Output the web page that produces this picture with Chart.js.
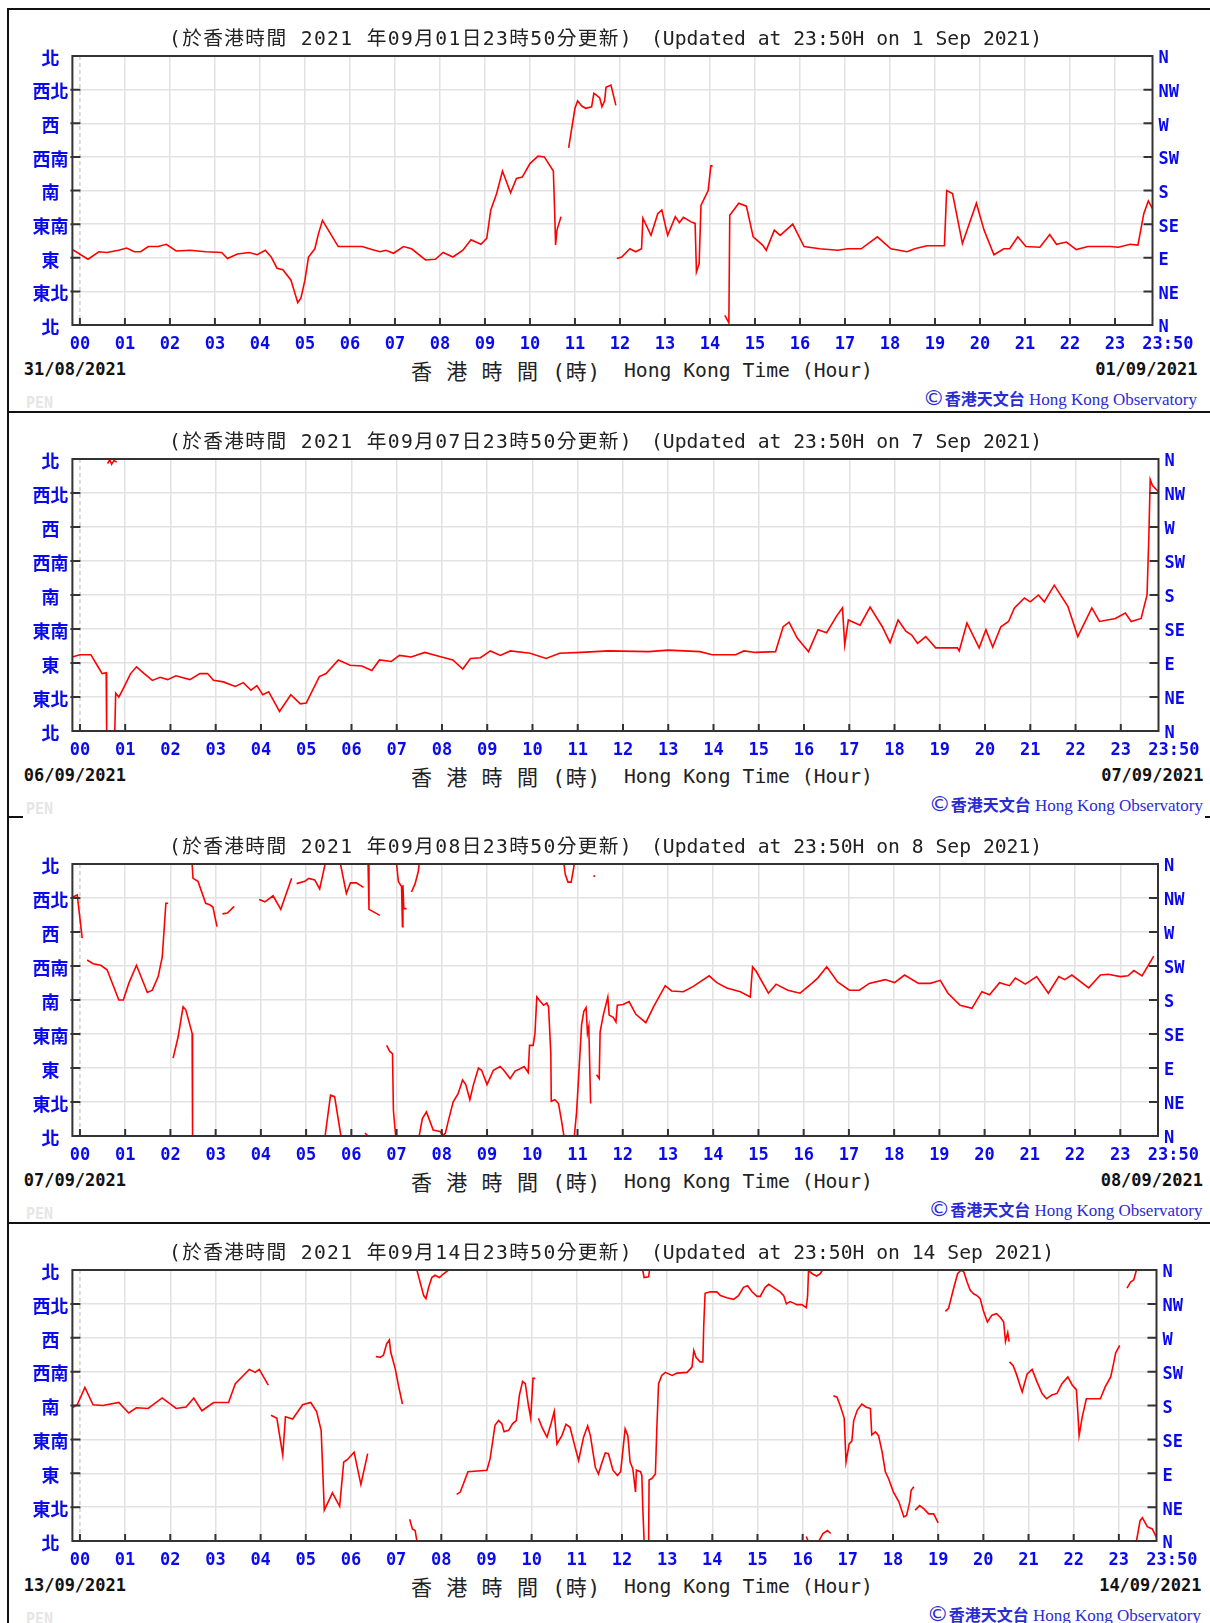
<!DOCTYPE html>
<html>
<head>
<meta charset="utf-8">
<script src="https://cdn.jsdelivr.net/npm/chart.js@4.4.1/dist/chart.umd.min.js"></script>
<style>
  html, body { margin: 0; padding: 0; background: #fff; }
  #page { position: relative; width: 1210px; height: 1623px; overflow: hidden; background: #fff; }
  .t { position: absolute; white-space: pre; line-height: 24px; height: 24px; }
  .title { font: 19.7px "DejaVu Sans Mono", "Noto Sans CJK TC", monospace; color: #222; }
  .axzh { font: 21px "DejaVu Sans Mono", "Noto Sans CJK TC", monospace; color: #222; }
  .date { font: bold 17px "DejaVu Sans Mono", monospace; color: #111; }
  .copy { color: #2b2bd6; }
  .copy .c { font: 22px "DejaVu Sans", sans-serif; }
  .copy .z { font: bold 16px "Noto Sans CJK TC", sans-serif; }
  .copy .e { font: 17px "Liberation Serif", "DejaVu Serif", serif; }
  .pen { font: bold 15px "DejaVu Sans Mono", monospace; color: #e6e6e6; }
  .rule { position: absolute; background: #111; }
  .box { position: absolute; left: 0; width: 1210px; }
</style>
</head>
<body>
<div id="page"></div>
<script>
// ---------- data (hour of day, wind direction in degrees; null = gap) ----------
const dirTicks = [0, 45, 90, 135, 180, 225, 270, 315, 360];
const dirZh = ['北', '東北', '東', '東南', '南', '西南', '西', '西北', '北'];
const dirEn = ['N', 'NE', 'E', 'SE', 'S', 'SW', 'W', 'NW', 'N'];
const hourTicks = [0, 1, 2, 3, 4, 5, 6, 7, 8, 9, 10, 11, 12, 13, 14, 15, 16, 17, 18, 19, 20, 21, 22, 23, 23 + 50 / 60];
const hourLabels = ['00', '01', '02', '03', '04', '05', '06', '07', '08', '09', '10', '11', '12',
  '13', '14', '15', '16', '17', '18', '19', '20', '21', '22', '23', '   23:50'];

const updatedZh = ['(於香港時間 2021 年09月01日23時50分更新)', '(於香港時間 2021 年09月07日23時50分更新)',
  '(於香港時間 2021 年09月08日23時50分更新)', '(於香港時間 2021 年09月14日23時50分更新)'];
const updatedEn = ['(Updated at 23:50H on 1 Sep 2021)', '(Updated at 23:50H on 7 Sep 2021)',
  '(Updated at 23:50H on 8 Sep 2021)', '(Updated at 23:50H on 14 Sep 2021)'];
const startDates = ['31/08/2021', '06/09/2021', '07/09/2021', '13/09/2021'];
const endDates = ['01/09/2021', '07/09/2021', '08/09/2021', '14/09/2021'];

const sep01 = [
  [-0.17, 101], [0.18, 88], [0.42, 98], [0.6, 97], [0.86, 100], [1.04, 103], [1.21, 98], [1.35, 98], [1.52, 105],
  [1.74, 105], [1.92, 108], [2.14, 99], [2.45, 100], [2.8, 98], [3.15, 97], [3.28, 89], [3.5, 95], [3.76, 97],
  [3.94, 94], [4.12, 100], [4.25, 91], [4.38, 76], [4.51, 74], [4.69, 60], [4.78, 42], [4.84, 30], [4.91, 36],
  [5.0, 60], [5.08, 91], [5.22, 102], [5.3, 122], [5.39, 140], [5.52, 127], [5.74, 105], [6.27, 105], [6.49, 101],
  [6.67, 98], [6.8, 100], [6.97, 96], [7.19, 105], [7.37, 102], [7.68, 87], [7.9, 88], [8.07, 97], [8.29, 91],
  [8.51, 100], [8.69, 114], [8.91, 108], [9.04, 116], [9.13, 154], [9.26, 176], [9.39, 206], [9.57, 177],
  [9.7, 196], [9.83, 198], [10.0, 216], [10.18, 226], [10.32, 225], [10.52, 206], [10.55, 150], [10.57, 107],
  [10.6, 127], [10.69, 145],
  null,
  [10.86, 237], [11.0, 290], [11.06, 300], [11.15, 293], [11.24, 290], [11.37, 292], [11.42, 310], [11.47, 308],
  [11.55, 304], [11.6, 292], [11.66, 300], [11.69, 318], [11.8, 321], [11.91, 294],
  null,
  [11.93, 89], [12.04, 91], [12.22, 102], [12.35, 98], [12.48, 102], [12.51, 143], [12.69, 120], [12.84, 149],
  [12.93, 154], [13.06, 120], [13.23, 145], [13.32, 137], [13.41, 144], [13.58, 138], [13.67, 136], [13.7, 71],
  [13.76, 82], [13.8, 160], [13.96, 180], [14.02, 213], [14.06, 213],
  null,
  [14.33, 13], [14.42, 3], [14.44, 147], [14.64, 163], [14.81, 159], [14.96, 118], [15.17, 107], [15.25, 100],
  [15.43, 127], [15.56, 120], [15.69, 127], [15.84, 135], [16.09, 105], [16.44, 102], [16.84, 100], [17.06, 102],
  [17.36, 102], [17.72, 118], [18.02, 102], [18.38, 98], [18.55, 102], [18.82, 106], [19.21, 106], [19.26, 180],
  [19.39, 176], [19.61, 109], [19.92, 163], [20.09, 127], [20.31, 94], [20.53, 102], [20.66, 102], [20.84, 118],
  [21.02, 105], [21.33, 104], [21.55, 121], [21.7, 108], [21.92, 111], [22.14, 101], [22.4, 105], [22.9, 105],
  [23.07, 104], [23.34, 108], [23.51, 107], [23.64, 149], [23.74, 166], [23.83, 156]
];

const sep07 = [
  [-0.17, 98], [0, 101], [0.24, 101], [0.4, 85], [0.49, 76], [0.58, 77], [0.59, 0],
  null,
  [0.61, 354], [0.66, 359], [0.7, 353], [0.75, 358], [0.81, 356],
  null,
  [0.77, 0], [0.79, 50], [0.86, 45], [0.94, 54], [1.12, 76], [1.25, 85], [1.42, 76], [1.6, 67], [1.77, 71],
  [1.94, 68], [2.12, 73], [2.43, 68], [2.65, 76], [2.82, 76], [2.95, 67], [3.17, 65], [3.43, 59], [3.61, 64],
  [3.78, 54], [3.91, 60], [4.04, 48], [4.17, 52], [4.41, 26], [4.66, 48], [4.87, 36], [5.0, 37], [5.29, 72],
  [5.44, 76], [5.71, 94], [5.97, 87], [6.23, 86], [6.45, 80], [6.62, 94], [6.88, 92], [7.06, 100], [7.32, 98],
  [7.62, 104], [7.93, 99], [8.24, 94], [8.46, 82], [8.63, 96], [8.85, 97], [9.07, 106], [9.29, 100], [9.51, 106],
  [9.95, 103], [10.3, 96], [10.6, 103], [11.07, 104], [11.68, 106], [12.57, 105], [13.0, 107], [13.7, 105],
  [13.97, 101], [14.49, 101], [14.67, 106], [14.93, 104], [15.37, 105], [15.54, 138], [15.67, 144], [15.85, 123],
  [16.1, 105], [16.31, 134], [16.5, 130], [16.72, 152], [16.85, 163], [16.9, 114], [16.98, 147], [17.24, 140],
  [17.46, 164], [17.73, 138], [17.9, 117], [18.08, 147], [18.25, 132], [18.38, 127], [18.51, 116], [18.69, 125],
  [18.91, 110], [19.39, 110], [19.43, 106], [19.6, 143], [19.87, 110], [20.02, 134], [20.17, 111], [20.35, 138],
  [20.52, 145], [20.65, 163], [20.87, 176], [21.0, 171], [21.18, 180], [21.31, 171], [21.53, 193], [21.83, 165],
  [22.05, 125], [22.36, 163], [22.53, 145], [22.88, 149], [23.1, 156], [23.23, 145], [23.45, 149], [23.58, 180],
  [23.62, 257], [23.65, 333], [23.7, 325], [23.83, 317]
];

const sep08 = [
  [-0.17, 316], [-0.06, 319], [0.05, 262],
  null,
  [0.16, 233], [0.29, 228], [0.46, 226], [0.6, 220], [0.86, 180], [0.96, 180], [1.08, 202], [1.25, 226],
  [1.49, 190], [1.6, 193], [1.73, 211], [1.82, 237], [1.9, 308], [1.95, 308],
  null,
  [2.06, 103], [2.17, 131], [2.28, 171], [2.34, 167], [2.48, 136], [2.49, 0],
  null,
  [2.48, 360], [2.5, 341], [2.61, 337], [2.78, 308], [2.87, 306], [2.94, 303], [3.03, 277],
  null,
  [3.15, 294], [3.26, 295], [3.41, 304],
  null,
  [3.6, 0], [3.97, 0],
  null,
  [3.96, 313], [4.09, 310], [4.27, 318], [4.44, 300], [4.68, 341],
  null,
  [4.79, 334], [4.97, 337], [5.06, 341], [5.19, 339], [5.3, 327], [5.42, 360],
  null,
  [5.42, 0], [5.54, 54], [5.63, 52], [5.77, 0],
  null,
  [5.76, 360], [5.89, 321], [5.98, 335], [6.11, 335], [6.27, 329],
  null,
  [6.3, 4], [6.37, 0],
  null,
  [6.37, 360], [6.39, 300], [6.63, 292],
  null,
  [6.78, 120], [6.85, 112], [6.91, 109], [6.93, 34], [6.98, 0],
  null,
  [7.0, 360], [7.04, 337], [7.11, 330], [7.13, 277], [7.14, 332], [7.16, 301], [7.22, 301],
  null,
  [7.33, 323], [7.41, 334], [7.48, 350], [7.5, 360],
  null,
  [7.5, 0], [7.57, 23], [7.66, 32], [7.74, 19], [7.81, 8], [7.96, 6], [8.03, 1], [8.08, 4], [8.14, 19],
  [8.25, 45], [8.36, 56], [8.46, 74], [8.53, 68], [8.62, 48], [8.7, 68], [8.81, 90], [8.88, 87], [9.0, 68],
  [9.14, 87], [9.29, 92], [9.37, 87], [9.51, 76], [9.62, 86], [9.73, 89], [9.82, 92], [9.91, 84], [9.94, 120],
  [10.02, 120], [10.06, 136], [10.1, 184], [10.18, 178], [10.25, 173], [10.32, 176], [10.36, 171], [10.41, 109],
  [10.42, 46], [10.5, 48], [10.58, 43], [10.65, 19], [10.7, 0],
  null,
  [10.7, 360], [10.73, 346], [10.79, 336], [10.86, 336], [10.93, 360],
  null,
  [10.93, 0], [10.98, 32], [11.04, 94], [11.09, 147], [11.14, 165], [11.19, 170], [11.22, 136], [11.25, 145],
  [11.29, 43],
  null,
  [11.42, 81], [11.48, 76], [11.5, 138], [11.57, 160], [11.67, 184], [11.7, 160], [11.79, 157], [11.85, 151],
  [11.88, 173], [12.01, 174], [12.14, 178], [12.29, 161], [12.51, 150], [12.68, 171], [12.94, 199], [13.08, 192],
  [13.34, 191], [13.56, 198], [13.91, 212], [14.08, 203], [14.3, 196], [14.6, 191], [14.82, 184], [14.87, 224],
  [14.95, 218], [15.22, 189], [15.39, 201], [15.65, 193], [15.92, 189], [16.18, 202], [16.31, 209], [16.51, 224],
  [16.75, 204], [17.01, 193], [17.23, 193], [17.45, 202], [17.8, 207], [18.01, 203], [18.23, 213], [18.54, 202],
  [18.8, 202], [19.02, 206], [19.19, 189], [19.46, 173], [19.72, 169], [19.94, 191], [20.11, 187], [20.33, 203],
  [20.55, 199], [20.68, 209], [20.9, 201], [21.15, 211], [21.41, 189], [21.64, 211], [21.77, 207], [21.93, 213],
  [22.3, 196], [22.56, 213], [22.73, 214], [23.0, 211], [23.17, 212], [23.3, 219], [23.48, 212], [23.74, 238],
  null,
  [11.35, 344], [11.39, 344]
];

const sep14 = [
  [-0.17, 177], [-0.06, 181], [0.11, 204], [0.29, 181], [0.51, 180], [0.86, 184], [1.08, 170], [1.25, 177],
  [1.51, 176], [1.82, 190], [2.13, 176], [2.35, 178], [2.52, 190], [2.7, 173], [2.96, 184], [3.29, 184],
  [3.44, 209], [3.75, 228], [3.88, 224], [3.97, 228], [4.17, 207],
  null,
  [4.23, 167], [4.36, 163], [4.49, 114], [4.55, 165], [4.71, 162], [4.93, 181], [5.11, 184], [5.24, 172],
  [5.34, 147], [5.41, 41], [5.59, 64], [5.75, 46], [5.84, 105], [5.92, 108], [6.07, 118], [6.22, 75], [6.37, 116],
  null,
  [6.55, 245], [6.65, 244], [6.72, 247], [6.79, 262], [6.85, 267], [6.88, 251], [6.98, 229], [7.05, 207],
  [7.14, 182],
  null,
  [7.3, 29], [7.36, 16], [7.42, 14], [7.46, 0],
  null,
  [7.46, 360], [7.53, 344], [7.61, 326], [7.66, 322], [7.72, 337], [7.79, 350], [7.86, 353], [7.96, 350],
  [8.05, 355], [8.16, 360],
  null,
  [8.34, 62], [8.42, 65], [8.49, 76], [8.59, 92], [9.01, 94], [9.08, 109], [9.19, 154], [9.27, 160], [9.34, 156],
  [9.39, 145], [9.49, 147], [9.58, 156], [9.66, 160], [9.73, 194], [9.8, 212], [9.86, 209], [9.93, 180],
  [9.98, 163], [10.03, 216], [10.08, 216],
  null,
  [10.15, 163], [10.23, 151], [10.34, 138], [10.43, 156], [10.5, 172], [10.56, 129], [10.67, 140], [10.76, 155],
  [10.85, 151], [10.96, 125], [11.04, 107], [11.15, 138], [11.24, 153], [11.3, 140], [11.41, 98], [11.48, 89],
  [11.55, 103], [11.63, 117], [11.7, 116], [11.8, 94], [11.9, 87], [11.97, 92], [12.07, 149], [12.13, 140],
  [12.18, 105], [12.24, 96], [12.3, 65], [12.32, 94], [12.41, 92], [12.44, 87], [12.46, 45], [12.49, 0],
  null,
  [12.46, 360], [12.49, 350], [12.59, 351], [12.61, 360],
  null,
  [12.59, 0], [12.6, 81], [12.66, 83], [12.74, 89], [12.77, 147], [12.81, 209], [12.88, 220], [12.96, 224],
  [13.11, 220], [13.22, 223], [13.44, 224], [13.55, 231], [13.59, 253], [13.64, 244], [13.73, 238], [13.79, 238],
  [13.81, 286], [13.84, 329], [13.95, 331], [14.1, 331], [14.18, 326], [14.32, 323], [14.47, 321], [14.58, 326],
  [14.69, 337], [14.78, 339], [14.88, 331], [14.99, 325], [15.06, 325], [15.17, 337], [15.25, 341], [15.4, 335],
  [15.5, 331], [15.58, 326], [15.64, 315], [15.72, 318], [15.8, 316], [15.87, 314], [15.98, 314], [16.08, 310],
  [16.11, 326], [16.13, 360],
  null,
  [16.13, 360], [16.17, 357], [16.24, 354], [16.31, 352], [16.39, 355], [16.44, 360],
  null,
  [16.08, 6], [16.12, 0],
  null,
  [16.36, 0], [16.45, 10], [16.55, 14], [16.62, 10],
  null,
  [16.68, 193], [16.76, 191], [16.83, 180], [16.92, 163], [16.96, 105], [17.03, 129], [17.09, 133], [17.13, 160],
  [17.21, 174], [17.31, 182], [17.4, 178], [17.5, 176], [17.53, 141], [17.61, 145], [17.68, 140], [17.76, 118],
  [17.83, 92], [17.9, 83], [18.01, 65], [18.13, 52], [18.24, 32], [18.3, 34], [18.37, 52], [18.4, 67], [18.46, 72],
  null,
  [18.49, 41], [18.59, 47], [18.68, 43], [18.79, 36], [18.9, 36], [19.0, 24],
  null,
  [19.16, 305], [19.23, 309], [19.34, 335], [19.43, 355], [19.51, 360], [19.57, 357], [19.64, 344], [19.71, 333],
  [19.79, 328], [19.86, 326], [19.93, 322], [20.0, 306], [20.09, 291], [20.19, 300], [20.29, 302], [20.38, 297],
  [20.45, 291], [20.49, 265], [20.54, 277], [20.57, 265],
  null,
  [20.58, 238], [20.66, 233], [20.73, 222], [20.86, 198], [20.97, 222], [21.08, 228], [21.19, 211], [21.3, 196],
  [21.4, 189], [21.52, 194], [21.63, 196], [21.74, 209], [21.87, 218], [21.97, 207], [22.06, 201], [22.09, 172],
  [22.12, 140], [22.19, 165], [22.28, 189], [22.41, 189], [22.59, 189], [22.7, 205], [22.82, 218], [22.89, 238],
  [22.93, 250], [23.02, 260],
  null,
  [23.18, 336], [23.26, 344], [23.33, 347], [23.39, 360],
  null,
  [23.39, 0], [23.47, 27], [23.52, 31], [23.63, 19], [23.74, 16], [23.83, 5]
];

const panelSeries = [sep01, sep07, sep08, sep14];

// ---------- layout ----------
const PLOT_LEFT = 72.4;
const panelBoxes = [
  { top: 56, bottom: 325, right: 1152.5 },
  { top: 459, bottom: 731, right: 1158.5 },
  { top: 864, bottom: 1136, right: 1158 },
  { top: 1270, bottom: 1541, right: 1156.5 }
];
const BLUE = '#0a0af0';
const GRID = '#e2e2e2';
const page = document.getElementById('page');

function addText(cls, text, x, cy, fitWidth) {
  const el = document.createElement('div');
  el.className = 't ' + cls;
  el.textContent = text;
  el.style.left = x + 'px';
  el.style.top = (cy - 12) + 'px';
  page.appendChild(el);
  if (fitWidth) {
    const w = el.getBoundingClientRect().width;
    el.style.letterSpacing = ((fitWidth - w) / text.length) + 'px';
  }
  return el;
}

function addRule(x, y, w, h) {
  const r = document.createElement('div');
  r.className = 'rule';
  Object.assign(r.style, { left: x + 'px', top: y + 'px', width: w + 'px', height: h + 'px' });
  page.appendChild(r);
}

// frame, inward tick marks and the dashed 00 line
const hkoFrame = {
  id: 'hkoFrame',
  beforeDatasetsDraw(chart) {
    const { ctx, chartArea: a, scales } = chart;
    const px = scales.x.getPixelForValue(0);
    ctx.save();
    ctx.strokeStyle = '#cfcfcf';
    ctx.lineWidth = 1.5;
    ctx.setLineDash([4, 3]);
    ctx.beginPath();
    ctx.moveTo(px, a.top);
    ctx.lineTo(px, a.bottom);
    ctx.stroke();
    ctx.restore();
  },
  afterDatasetsDraw(chart) {
    const { ctx, chartArea: a, scales } = chart;
    ctx.save();
    ctx.strokeStyle = '#333';
    ctx.lineWidth = 2;
    ctx.strokeRect(a.left, a.top, a.right - a.left, a.bottom - a.top);
    ctx.beginPath();
    scales.x.ticks.forEach((t) => {
      if (t.value > 23.5) return;
      const px = scales.x.getPixelForValue(t.value);
      ctx.moveTo(px, a.bottom);
      ctx.lineTo(px, a.bottom - 7);
    });
    scales.y.ticks.forEach((t) => {
      if (t.value <= 0 || t.value >= 360) return;
      const py = scales.y.getPixelForValue(t.value);
      ctx.moveTo(a.left - 2, py);
      ctx.lineTo(a.left + 8, py);
      ctx.moveTo(a.right - 9, py);
      ctx.lineTo(a.right, py);
    });
    ctx.stroke();
    ctx.restore();
  }
};

function makePanel(i) {
  const b = panelBoxes[i];
  const h = b.bottom - b.top;

  const wrap = document.createElement('div');
  wrap.className = 'box';
  wrap.style.top = (b.top - 30) + 'px';
  wrap.style.height = (h + 60) + 'px';
  const cv = document.createElement('canvas');
  wrap.appendChild(cv);
  page.appendChild(wrap);

  const pts = [];
  let lastX = 0;
  panelSeries[i].forEach((p) => {
    if (p) { pts.push({ x: p[0], y: p[1] }); lastX = p[0]; }
    else pts.push({ x: lastX, y: null });
  });

  const dirFont = { family: '"Noto Sans CJK TC", sans-serif', size: 18, weight: 'bold' };
  const monoFont = { family: '"DejaVu Sans Mono", monospace', size: 17, weight: 'bold' };

  new Chart(cv, {
    type: 'line',
    data: {
      datasets: [{
        data: pts,
        borderColor: '#ff0000',
        borderWidth: 1.6,
        pointRadius: 0,
        tension: 0,
        spanGaps: false
      }]
    },
    options: {
      responsive: true,
      maintainAspectRatio: false,
      animation: false,
      events: [],
      layout: { padding: { top: 30, bottom: 0, left: 0, right: 0 } },
      plugins: { legend: { display: false }, tooltip: { enabled: false } },
      scales: {
        x: {
          type: 'linear',
          min: -1 / 6,
          max: 23 + 50 / 60,
          afterBuildTicks: (s) => { s.ticks = hourTicks.map((v) => ({ value: v })); },
          afterFit: (s) => { s.height = 30; },
          ticks: {
            autoSkip: false, maxRotation: 0, padding: 9, color: BLUE, font: monoFont,
            callback: (v, idx) => hourLabels[idx]
          },
          grid: {
            drawTicks: false, lineWidth: 1.5,
            color: (c) => (c.tick && (c.tick.value === 0 || c.tick.value > 23.5)) ? 'rgba(0,0,0,0)' : GRID
          },
          border: { display: false }
        },
        y: {
          type: 'linear',
          position: 'left',
          min: 0,
          max: 360,
          afterBuildTicks: (s) => { s.ticks = dirTicks.map((v) => ({ value: v })); },
          afterFit: (s) => { s.width = PLOT_LEFT; },
          ticks: {
            padding: 4, crossAlign: 'center', labelOffset: 2, color: BLUE, font: dirFont,
            callback: (v, idx) => dirZh[idx]
          },
          grid: {
            drawTicks: false, lineWidth: 1.5,
            color: (c) => (c.tick && (c.tick.value === 0 || c.tick.value === 360)) ? 'rgba(0,0,0,0)' : GRID
          },
          border: { display: false }
        },
        y2: {
          type: 'linear',
          display: true,
          position: 'right',
          min: 0,
          max: 360,
          afterBuildTicks: (s) => { s.ticks = dirTicks.map((v) => ({ value: v })); },
          afterFit: (s) => { s.width = 1210 - b.right; },
          ticks: {
            padding: 6, labelOffset: 3, color: BLUE, font: monoFont,
            callback: (v, idx) => dirEn[idx]
          },
          grid: { display: false, drawTicks: false },
          border: { display: false }
        }
      }
    },
    plugins: [hkoFrame]
  });

  // texts around the plot
  addText('title', updatedZh[i], 169, b.top - 22, 464);
  addText('title', updatedEn[i], 651, b.top - 17);
  addText('axzh', '香 港 時 間 (時)', 411, b.bottom + 42, 190);
  addText('title', 'Hong Kong Time (Hour)', 624, b.bottom + 46);
  addText('date', startDates[i], 23.7, b.bottom + 46);
  const endEl = addText('date', endDates[i], 0, b.bottom + 46);
  endEl.style.left = (b.right + 45 - endEl.getBoundingClientRect().width) + 'px';

  const cp = document.createElement('div');
  cp.className = 't copy';
  cp.innerHTML = '<span class="c">©</span><span class="z">香港天文台</span><span class="e"> Hong Kong Observatory</span>';
  cp.style.top = (b.bottom + 72 - 12) + 'px';
  page.appendChild(cp);
  cp.style.left = (b.right + 44.5 - cp.getBoundingClientRect().width) + 'px';

  addText('pen', 'PEN', 26, b.bottom + 81);
}

// panel frame rules
addRule(6.5, 8, 1204, 2);
addRule(6.5, 8, 2, 1615);
addRule(6.5, 411, 1204, 2);
addRule(6.5, 816, 16, 2);
addRule(1205, 816, 5, 2);
addRule(6.5, 1222, 1204, 2);

for (let i = 0; i < 4; i++) makePanel(i);
</script>
</body>
</html>
